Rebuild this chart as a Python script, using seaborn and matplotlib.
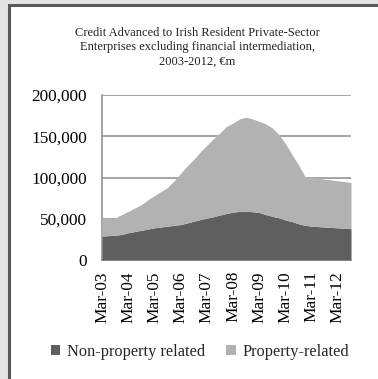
import matplotlib
matplotlib.use("Agg")
import matplotlib.pyplot as plt
from matplotlib.patches import Rectangle
from matplotlib.ticker import StrMethodFormatter
import numpy as np
import pandas as pd
import seaborn as sns

# Quarterly credit outstanding, EUR million (Mar-03 .. Sep-12)
quarters = pd.period_range("2003Q1", "2012Q3", freq="Q")
non_property = [29000, 29500, 30000, 31000, 33000, 34500, 36000, 37500,
                39000, 40000, 41000, 42000, 43000, 45000, 47000, 49000,
                50500, 52500, 54500, 56500, 58000, 59000, 59000, 58500,
                57500, 55000, 53000, 51000, 48500, 46500, 44000, 42000,
                41000, 40500, 40000, 39500, 39000, 38500, 38000]
total_credit = [51000, 50500, 51000, 55000, 59000, 63000, 67000, 73000,
                78000, 83000, 88000, 96000, 105000, 114000, 122000, 131000,
                139000, 147000, 154000, 162000, 166000, 171000, 173000, 171000,
                168000, 165000, 160000, 152000, 141000, 128000, 115000, 101000,
                100000, 99000, 98000, 97000, 96000, 95000, 94000]
property_related = [t - n for t, n in zip(total_credit, non_property)]

series_names = ["Non-property related", "Property-related"]
series_colors = ["#5f5f5f", "#b2b2b2"]
tick_labels = ["Mar-03", "Mar-04", "Mar-05", "Mar-06", "Mar-07",
               "Mar-08", "Mar-09", "Mar-10", "Mar-11", "Mar-12"]
y_ticks = [0, 50000, 100000, 150000, 200000]
title = ("Credit Advanced to Irish Resident Private-Sector\n"
         "Enterprises excluding financial intermediation,\n"
         "2003-2012, €m")

df = pd.DataFrame({"quarter": np.arange(len(quarters)),
                   series_names[0]: non_property,
                   series_names[1]: property_related})

sns.set_theme(style="white")
plt.rcParams["font.family"] = ["Liberation Serif", "DejaVu Serif"]

W, H = 378, 379
fig = plt.figure(figsize=(W / 100, H / 100), dpi=100)
fig.patch.set_facecolor("#e4e4e4")

# white panel with a dark frame on the left and top
fig.patches.append(Rectangle((9 / W, -0.2), 1.5, 1.2 - 4.5 / H,
                             transform=fig.transFigure, facecolor="white",
                             edgecolor="#585858", linewidth=2.2,
                             clip_on=False, zorder=-5))

ax = fig.add_axes([102 / W, 1 - 260 / H, (351 - 102) / W, (260 - 95) / H])
ax.set_zorder(2)
ax.set_facecolor("none")

ax.stackplot(df["quarter"], df[series_names[0]], df[series_names[1]],
             colors=series_colors, labels=series_names, linewidth=0,
             zorder=3)

ax.set_xlim(0, len(quarters) - 1)
ax.set_ylim(0, 200000)
ax.set_yticks(y_ticks)
ax.yaxis.set_major_formatter(StrMethodFormatter("{x:,.0f}"))
ax.set_xticks(np.arange(0, 4 * len(tick_labels), 4))
ax.set_xticklabels(tick_labels, rotation=90)

grid_c = "#8c8c8c"
ax.yaxis.grid(True, color=grid_c, linewidth=1.1, zorder=1)
ax.set_axisbelow(True)
sns.despine(ax=ax, top=True, right=True)
for s in ("left", "bottom"):
    ax.spines[s].set_color(grid_c)
    ax.spines[s].set_linewidth(1.1)
ax.tick_params(axis="both", which="both", direction="out", color=grid_c,
               width=1.0, labelsize=12.4, colors="black", labelcolor="black")
ax.tick_params(axis="y", length=3, pad=8)
ax.tick_params(axis="x", length=4, pad=4)

fig.text(197 / W, 1 - 47 / H, title, ha="center", va="center",
         fontsize=9.0, linespacing=1.25, color="#222222", zorder=3)

handles, labels = ax.get_legend_handles_labels()
leg = fig.legend(handles, labels, loc="center",
                 bbox_to_anchor=(200 / W, 1 - 352 / H),
                 ncol=2, frameon=False, fontsize=11.8, handlelength=0.6,
                 handleheight=0.6, handletextpad=0.4, columnspacing=1.3)
leg.set_zorder(3)

fig.savefig("out.png", dpi=100, facecolor=fig.get_facecolor())
